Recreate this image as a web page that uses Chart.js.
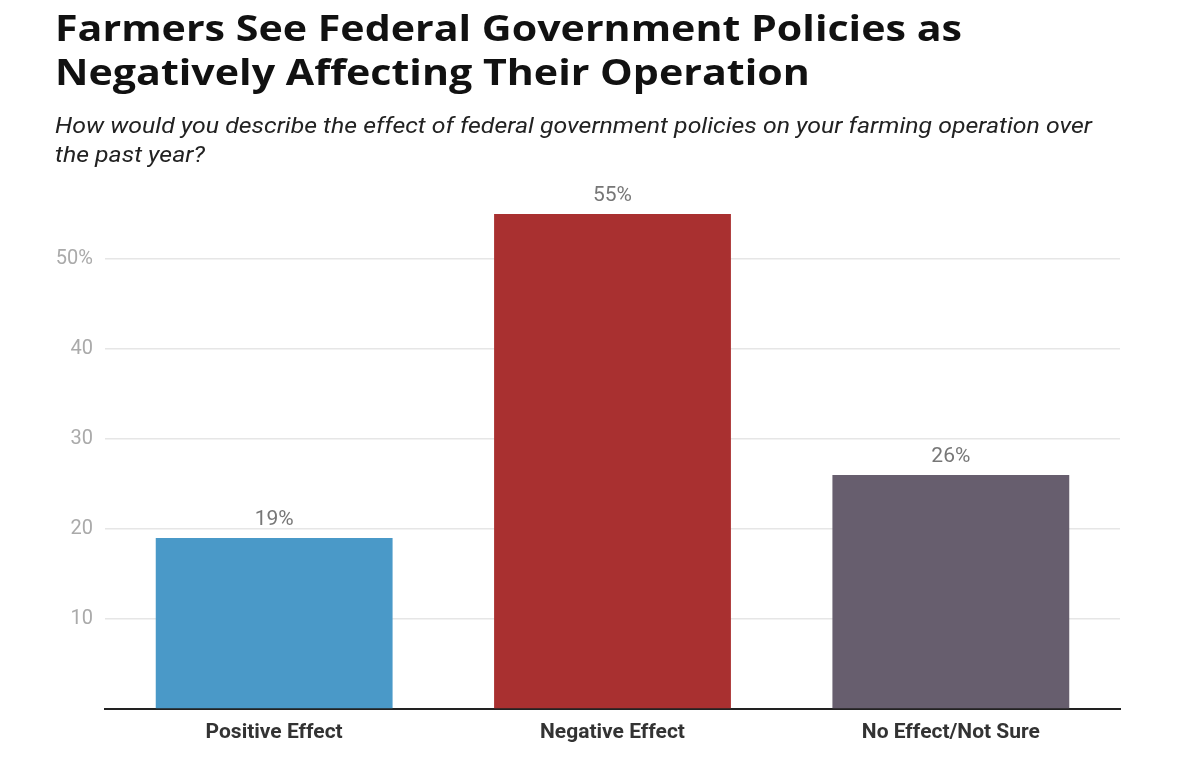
<!DOCTYPE html>
<html>
<head>
<meta charset="utf-8">
<script src="https://cdn.jsdelivr.net/npm/chart.js@4.4.1/dist/chart.umd.min.js"></script>
<style>
  html, body { margin: 0; padding: 0; background: #fff; }
  #wrap { position: relative; width: 1200px; height: 775px; overflow: hidden; }
  .head { position: absolute; left: 55px; margin: 0; white-space: nowrap; transform-origin: 0 0; }
  #title { top: 6px; font-family: "Open Sans", sans-serif; font-weight: 700; font-size: 36px; line-height: 44px; color: #111; }
  #subtitle { top: 111px; font-family: Roboto, sans-serif; font-style: italic; font-size: 22px; line-height: 29px; color: #222; }
  canvas { position: absolute; left: 0; top: 0; }
</style>
</head>
<body>
<div id="wrap">
  <canvas id="chart" width="1200" height="775"></canvas>
  <h1 id="title" class="head">Farmers See Federal Government Policies as<br>Negatively Affecting Their Operation</h1>
  <p id="subtitle" class="head">How would you describe the effect of federal government policies on your farming operation over<br>the past year?</p>
</div>
<script>
const categories = ['Positive Effect', 'Negative Effect', 'No Effect/Not Sure'];
const shares = [19, 55, 26];
const barColors = ['#4a99c8', '#a93030', '#675e6e'];
const yTicks = [10, 20, 30, 40, 50];

// stretch the heading lines to the widths seen in the picture
function fitWidth(id, target) {
  const el = document.getElementById(id);
  const w = el.getBoundingClientRect().width;
  el.style.transform = 'scaleX(' + (target / w) + ')';
}
fitWidth('title', 907);
fitWidth('subtitle', 1037);

// value labels above each bar
const valueLabels = {
  id: 'valueLabels',
  afterDatasetsDraw(chart) {
    const ctx = chart.ctx;
    const meta = chart.getDatasetMeta(0);
    ctx.save();
    ctx.font = '21px Roboto';
    ctx.fillStyle = '#777';
    ctx.textAlign = 'center';
    ctx.textBaseline = 'alphabetic';
    meta.data.forEach(function(bar, i) {
      ctx.fillText(shares[i] + '%', bar.x, bar.y - 13);
    });
    ctx.restore();
  }
};

new Chart(document.getElementById('chart'), {
  type: 'bar',
  data: {
    labels: categories,
    datasets: [{
      data: shares,
      backgroundColor: barColors,
      borderWidth: 0,
      categoryPercentage: 1,
      barPercentage: 0.7
    }]
  },
  options: {
    responsive: false,
    animation: false,
    layout: { padding: { left: 0, right: 80, top: 169, bottom: 0 } },
    plugins: { legend: { display: false }, tooltip: { enabled: false } },
    scales: {
      x: {
        grid: { display: false },
        border: { color: '#222', width: 2 },
        ticks: { color: '#333', font: { family: 'Roboto', size: 21, weight: 'bold' }, padding: 3 },
        afterFit(scale) { scale.height = 66; }
      },
      y: {
        min: 0,
        max: 60,
        afterBuildTicks(scale) { scale.ticks = [0].concat(yTicks, [60]).map(v => ({ value: v })); },
        border: { display: false },
        grid: {
          drawTicks: false,
          color: ctx => (ctx.tick && yTicks.includes(ctx.tick.value)) ? '#e6e6e6' : 'rgba(0,0,0,0)',
          lineWidth: 1.5
        },
        ticks: {
          color: '#aaa',
          padding: 12,
          font: { family: 'Roboto', size: 20 },
          callback: v => v === 50 ? '50%' : (yTicks.includes(v) ? String(v) : '')
        },
        afterFit(scale) { scale.width = 105; }
      }
    }
  },
  plugins: [valueLabels]
});
</script>
</body>
</html>
